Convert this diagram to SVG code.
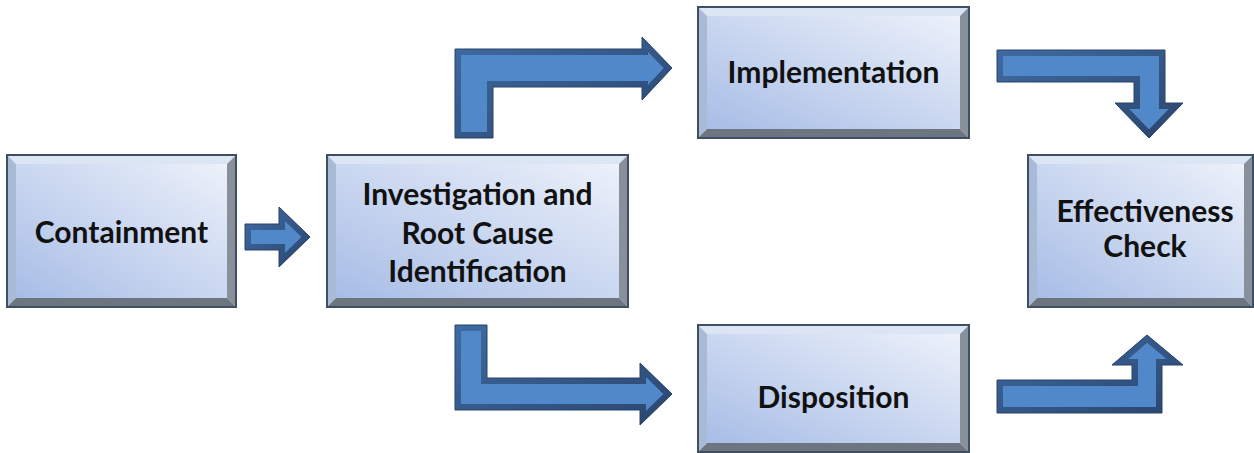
<svg xmlns="http://www.w3.org/2000/svg" xmlns:xlink="http://www.w3.org/1999/xlink" width="1254" height="453" viewBox="0 0 1254 453">
<style>
.bt{fill:#dce5f4}
.bl{fill:#a8bad6}
.br{fill:#87909b}
.bb{fill:#6c7580}
.face{fill:url(#gFace)}
.edge{fill:none;stroke:#3f4f63;stroke-width:2}
.lbl{font-family:Lato,"Open Sans","Liberation Sans",sans-serif;font-weight:700;font-size:30px;fill:#111;text-anchor:middle}
.arF{fill:#5088ca}
.arB{fill:none;stroke:url(#gBev);stroke-width:12}
.arE{fill:none;stroke:#2b4368;stroke-width:1}
</style>
<defs>
<linearGradient id="gFace" x1="0" y1="1" x2="1" y2="0">
<stop offset="0" stop-color="#a8bde6"/>
<stop offset="1" stop-color="#ecf1fa"/>
</linearGradient>
<linearGradient id="gBev" x1="0" y1="0" x2="1" y2="1">
<stop offset="0" stop-color="#3f6ba2"/>
<stop offset="1" stop-color="#2a456e"/>
</linearGradient>
<path id="a1" d="M245,224 H279 V207 L310,237 L279,267 V250 H245 Z"/>
<path id="a2" d="M455,138 V49 H642 V37 L672,68 L642,100 V87 H493 V138 Z"/>
<path id="a3" d="M455,325 H487 V378 H640 V363 L672,394 L640,425 V410 H455 Z"/>
<path id="a4" d="M997,50 H1165 V103 H1183 L1149,138 L1115,103 H1134 V82 H997 Z"/>
<path id="a5" d="M997,413 V380 H1132 V365 H1112 L1147,335 L1183,365 H1162 V413 Z"/>
<clipPath id="c1"><use xlink:href="#a1"/></clipPath>
<clipPath id="c2"><use xlink:href="#a2"/></clipPath>
<clipPath id="c3"><use xlink:href="#a3"/></clipPath>
<clipPath id="c4"><use xlink:href="#a4"/></clipPath>
<clipPath id="c5"><use xlink:href="#a5"/></clipPath>
</defs>
<rect width="1254" height="453" fill="#ffffff"/>
<g id="connectors">
<g id="arrow-containment-investigation"><use xlink:href="#a1" class="arF"/><use xlink:href="#a1" class="arB" clip-path="url(#c1)"/><use xlink:href="#a1" class="arE"/></g>
<g id="arrow-investigation-implementation"><use xlink:href="#a2" class="arF"/><use xlink:href="#a2" class="arB" clip-path="url(#c2)"/><use xlink:href="#a2" class="arE"/></g>
<g id="arrow-investigation-disposition"><use xlink:href="#a3" class="arF"/><use xlink:href="#a3" class="arB" clip-path="url(#c3)"/><use xlink:href="#a3" class="arE"/></g>
<g id="arrow-implementation-effectiveness"><use xlink:href="#a4" class="arF"/><use xlink:href="#a4" class="arB" clip-path="url(#c4)"/><use xlink:href="#a4" class="arE"/></g>
<g id="arrow-disposition-effectiveness"><use xlink:href="#a5" class="arF"/><use xlink:href="#a5" class="arB" clip-path="url(#c5)"/><use xlink:href="#a5" class="arE"/></g>
</g>
<g id="containment">
<polygon class="bt" points="7,155 236,155 227,164 16,164"/>
<polygon class="bl" points="7,155 16,164 16,298 7,307"/>
<polygon class="br" points="236,155 236,307 227,298 227,164"/>
<polygon class="bb" points="7,307 16,298 227,298 236,307"/>
<rect class="face" x="16" y="164" width="211" height="134"/>
<rect class="edge" x="7" y="155" width="229" height="152"/>
<text class="lbl" x="121.5" y="243">Containment</text>
</g>
<g id="investigation">
<polygon class="bt" points="327,155 628,155 619,164 336,164"/>
<polygon class="bl" points="327,155 336,164 336,298 327,307"/>
<polygon class="br" points="628,155 628,307 619,298 619,164"/>
<polygon class="bb" points="327,307 336,298 619,298 628,307"/>
<rect class="face" x="336" y="164" width="283" height="134"/>
<rect class="edge" x="327" y="155" width="301" height="152"/>
<text class="lbl" x="477.5" y="205">Investigation and</text>
<text class="lbl" x="477.5" y="244">Root Cause</text>
<text class="lbl" x="477.5" y="282">Identification</text>
</g>
<g id="implementation">
<polygon class="bt" points="698,7 969,7 960,16 707,16"/>
<polygon class="bl" points="698,7 707,16 707,129 698,138"/>
<polygon class="br" points="969,7 969,138 960,129 960,16"/>
<polygon class="bb" points="698,138 707,129 960,129 969,138"/>
<rect class="face" x="707" y="16" width="253" height="113"/>
<rect class="edge" x="698" y="7" width="271" height="131"/>
<text class="lbl" x="833.5" y="83">Implementation</text>
</g>
<g id="disposition">
<polygon class="bt" points="698,325 969,325 960,334 707,334"/>
<polygon class="bl" points="698,325 707,334 707,443 698,452"/>
<polygon class="br" points="969,325 969,452 960,443 960,334"/>
<polygon class="bb" points="698,452 707,443 960,443 969,452"/>
<rect class="face" x="707" y="334" width="253" height="109"/>
<rect class="edge" x="698" y="325" width="271" height="127"/>
<text class="lbl" x="833.5" y="408">Disposition</text>
</g>
<g id="effectiveness">
<polygon class="bt" points="1028,155 1253,155 1244,164 1037,164"/>
<polygon class="bl" points="1028,155 1037,164 1037,298 1028,307"/>
<polygon class="br" points="1253,155 1253,307 1244,298 1244,164"/>
<polygon class="bb" points="1028,307 1037,298 1244,298 1253,307"/>
<rect class="face" x="1037" y="164" width="207" height="134"/>
<rect class="edge" x="1028" y="155" width="225" height="152"/>
<text class="lbl" x="1145" y="222">Effectiveness</text>
<text class="lbl" x="1145" y="257">Check</text>
</g>
</svg>
